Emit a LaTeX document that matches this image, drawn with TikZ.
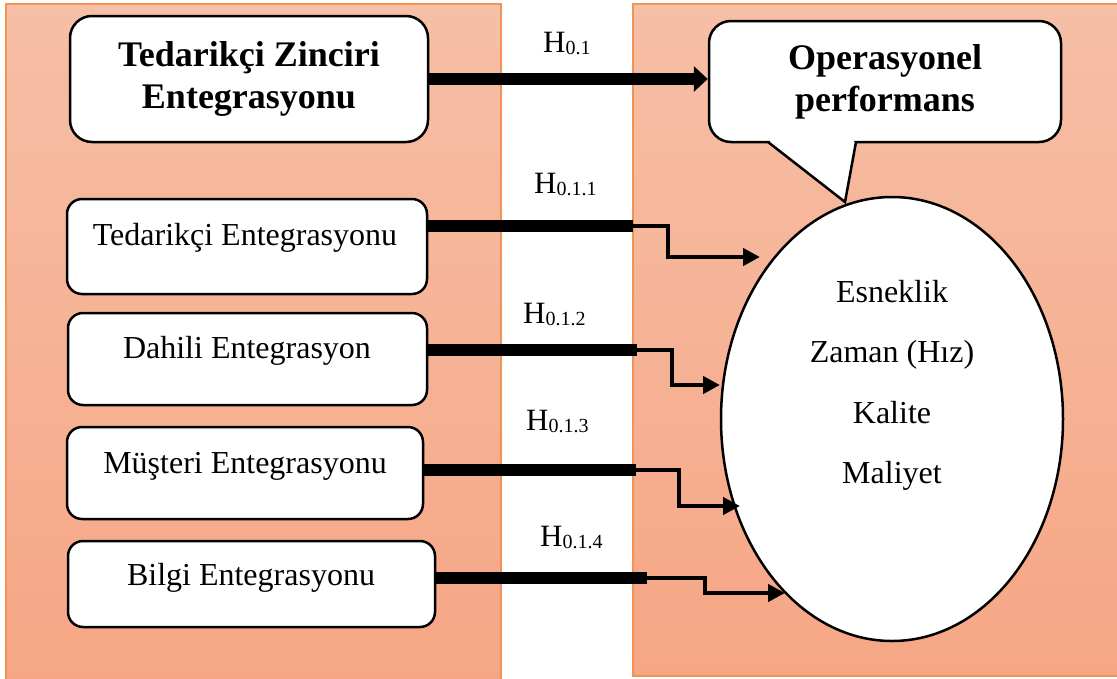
\documentclass[tikz,border=0pt]{standalone}
\usepackage{fontspec}
\setmainfont{Liberation Serif}
\usetikzlibrary{arrows.meta,shapes.geometric}
\definecolor{panTop}{RGB}{246,191,166}
\definecolor{panBot}{RGB}{246,166,133}
\definecolor{panEdge}{RGB}{241,146,86}
\newcommand\hlab[1]{\fontsize{31}{31}\selectfont H\raisebox{-2.5pt}{\fontsize{20}{20}\selectfont #1}}
\begin{document}
\begin{tikzpicture}[x=1pt,y=-1pt,
  panel/.style={draw=panEdge, line width=1.5pt, top color=panTop, bottom color=panBot},
  box/.style={draw=black, fill=white, line width=2.5pt, rounded corners=15pt, inner sep=0pt},
  bigbox/.style={box, rounded corners=22pt, align=center, font=\fontsize{36}{42}\selectfont\bfseries},
  txt/.style={anchor=base, inner sep=0pt, font=\fontsize{32}{32}\selectfont},
  hl/.style={anchor=base west, inner sep=0pt},
  bar/.style={line width=11.5pt, line cap=butt},
  thinarrow/.style={line width=4.8pt, line join=miter, -{Triangle[length=17pt,width=17pt]}},
  ell/.style={draw=black, fill=white, line width=2.5pt, ellipse, inner sep=0pt}
]
\useasboundingbox (0,0) rectangle (1117,678);
% panels
\path[panel] (6,4) rectangle (501,684);
\path[panel] (633,4) rectangle (1124,676);

% ellipse
\node[ell, minimum width=342pt, minimum height=444pt] (perf) at (892,419) {};
\node[txt] (e1) at (892,302) {Esneklik};
\node[txt] (e2) at (892,362) {Zaman (Hız)};
\node[txt] (e3) at (892,423) {Kalite};
\node[txt] (e4) at (892,483) {Maliyet};

% top boxes
\node[bigbox, minimum width=358pt, minimum height=126pt] (b0) at (249,79) {Tedarikçi Zinciri\\Entegrasyonu};
\node[bigbox, minimum width=352pt, minimum height=121pt] (callout) at (885,81.5) {Operasyonel\\performans};
% callout tail
\fill[white] (770,140.4) rectangle (854.3,144);
\fill[white] (768,142) -- (845,202) -- (856,142) -- cycle;
\draw[line width=2.5pt, line join=miter] (768,142) -- (845,202) -- (856,142);

% left boxes
\node[box, minimum width=360pt, minimum height=95pt] (b1) at (247,246.5) {};
\node[box, minimum width=359pt, minimum height=92pt] (b2) at (247.5,359) {};
\node[box, minimum width=356pt, minimum height=92pt] (b3) at (245,473) {};
\node[box, minimum width=367pt, minimum height=86pt] (b4) at (251.5,584) {};
\node[txt] (t1txt) at (245,245) {Tedarikçi Entegrasyonu};
\node[txt] (t2txt) at (247,358) {Dahili Entegrasyon};
\node[txt] (t3txt) at (245,473) {Müşteri Entegrasyonu};
\node[txt] (t4txt) at (251,585) {Bilgi Entegrasyonu};

% main arrow
\draw[bar, -{Triangle[length=14pt,width=25pt]}] (b0.east) -- (b0.east -| callout.west);

% elbow connectors
\coordinate (j1) at (633,226); \coordinate (k1) at (668,257); \coordinate (p1) at (760,257);
\coordinate (j2) at (637,350); \coordinate (k2) at (672,385); \coordinate (p2) at (720,385);
\coordinate (j3) at (636,470); \coordinate (k3) at (679,506); \coordinate (p3) at (740,506);
\coordinate (j4) at (647,578); \coordinate (k4) at (705,593); \coordinate (p4) at (785,593);
\foreach \i in {1,2,3,4}{
  \draw[bar] (b\i.east |- j\i) -- (j\i);
  \draw[thinarrow] ([xshift=-1pt]j\i) -| (k\i) -- (p\i);
}

% labels
\node[hl] (h0) at (543,52) {\hlab{0.1}};
\node[hl] (h1) at (534,193) {\hlab{0.1.1}};
\node[hl] (h2) at (523,323) {\hlab{0.1.2}};
\node[hl] (h3) at (526,430) {\hlab{0.1.3}};
\node[hl] (h4) at (540,546) {\hlab{0.1.4}};
\end{tikzpicture}
\end{document}
